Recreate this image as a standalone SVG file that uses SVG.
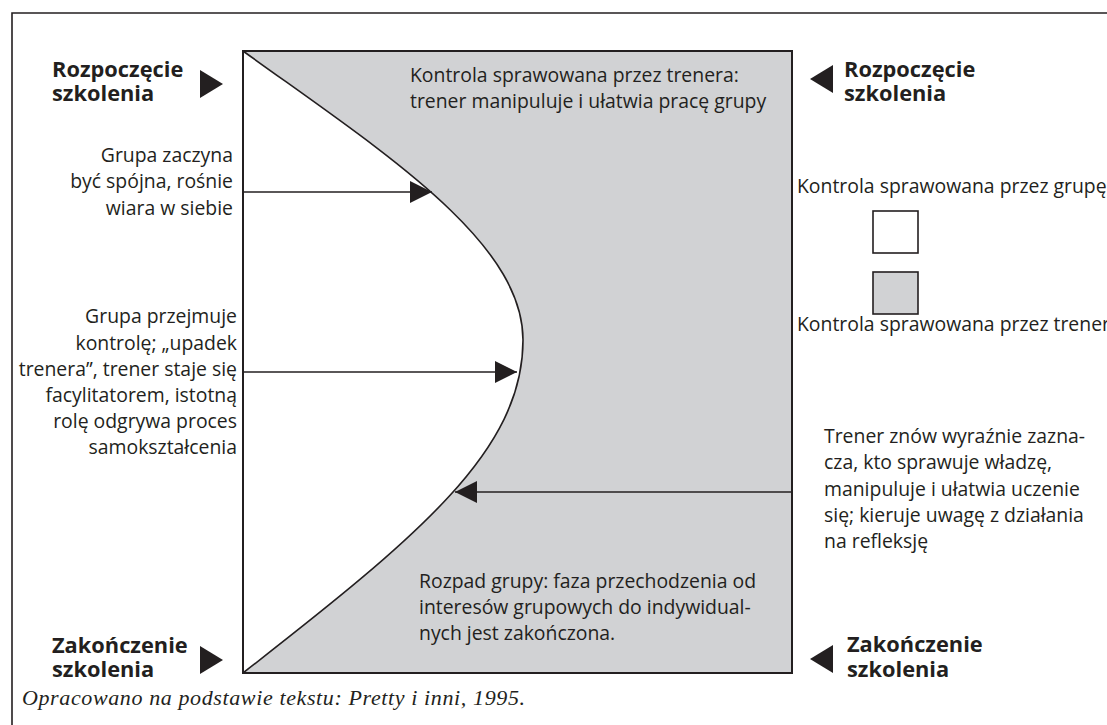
<svg xmlns="http://www.w3.org/2000/svg" width="1107" height="725" viewBox="0 0 1107 725">
<defs>
<style>
.t{font-family:"Open Sans","Noto Sans",sans-serif;font-size:19.4px;fill:#231f20}
.b{font-family:"Open Sans","Noto Sans",sans-serif;font-size:21.8px;font-weight:bold;fill:#231f20}
.r{text-anchor:end}
.cap{font-family:"Liberation Serif",serif;font-style:italic;font-size:22px;fill:#231f20}
.ln{stroke:#231f20;stroke-width:1.6;fill:none}
.tri{fill:#231f20}
</style>
<marker id="ah" markerUnits="userSpaceOnUse" markerWidth="22" markerHeight="22" viewBox="0 0 22 22" refX="22" refY="11" orient="auto">
<path d="M0,0 L22,11 L0,22 Z" fill="#231f20"/>
</marker>
</defs>
<rect width="1107" height="725" fill="#ffffff"/>
<g id="frame">
<path d="M12,725 L12,13 L1107,13" class="ln" stroke="#333"/>
</g>
<g id="main">
<rect x="243" y="51" width="549" height="622" fill="#d1d2d4"/>
<path d="M243,51 C380,150 523,240 523,340 C523,450 420,535 243,673 Z" fill="#ffffff"/>
<path d="M243,51 C380,150 523,240 523,340 C523,450 420,535 243,673" class="ln"/>
<rect x="243" y="51" width="549" height="622" fill="none" stroke="#231f20" stroke-width="2"/>
</g>
<g id="connectors">
<line x1="243" y1="192" x2="432" y2="192" class="ln" marker-end="url(#ah)"/>
<line x1="243" y1="372" x2="517" y2="372" class="ln" marker-end="url(#ah)"/>
<line x1="791" y1="492" x2="455" y2="492" class="ln" marker-end="url(#ah)"/>
</g>
<g id="start-left">
<text class="b" x="52" y="77">Rozpoczęcie</text>
<text class="b" x="52" y="101">szkolenia</text>
<path class="tri" d="M200,70 L223,84 L200,98 Z"/>
</g>
<g id="start-right">
<path class="tri" d="M833,65 L810,79 L833,93 Z"/>
<text class="b" x="844" y="77">Rozpoczęcie</text>
<text class="b" x="844" y="101">szkolenia</text>
</g>
<g id="end-left">
<text class="b" x="52" y="653">Zakończenie</text>
<text class="b" x="52" y="677">szkolenia</text>
<path class="tri" d="M200,646 L223,660 L200,674 Z"/>
</g>
<g id="end-right">
<path class="tri" d="M833,645 L810,659 L833,673 Z"/>
<text class="b" x="847" y="652">Zakończenie</text>
<text class="b" x="847" y="677">szkolenia</text>
</g>
<g id="note-cohesion">
<text class="t r" x="233" y="162">Grupa zaczyna</text>
<text class="t r" x="233" y="188">być spójna, rośnie</text>
<text class="t r" x="233" y="215">wiara w siebie</text>
</g>
<g id="note-takeover">
<text class="t r" x="237" y="323">Grupa przejmuje</text>
<text class="t r" x="237" y="350">kontrolę; „upadek</text>
<text class="t r" x="237" y="376">trenera”, trener staje się</text>
<text class="t r" x="237" y="402">facylitatorem, istotną</text>
<text class="t r" x="237" y="428">rolę odgrywa proces</text>
<text class="t r" x="237" y="454">samokształcenia</text>
</g>
<g id="note-trainer-control">
<text class="t" x="410" y="82">Kontrola sprawowana przez trenera:</text>
<text class="t" x="410" y="108">trener manipuluje i ułatwia pracę grupy</text>
</g>
<g id="legend">
<text class="t" x="797" y="193">Kontrola sprawowana przez grupę</text>
<rect x="873" y="211" width="45" height="42" fill="#ffffff" stroke="#231f20" stroke-width="1.6"/>
<rect x="873" y="272" width="45" height="42" fill="#d1d2d4" stroke="#231f20" stroke-width="1.6"/>
<text class="t" x="797" y="331">Kontrola sprawowana przez trenera</text>
</g>
<g id="note-trainer-again">
<text class="t" x="824" y="443">Trener znów wyraźnie zazna-</text>
<text class="t" x="824" y="469">cza, kto sprawuje władzę,</text>
<text class="t" x="824" y="496">manipuluje i ułatwia uczenie</text>
<text class="t" x="824" y="522">się; kieruje uwagę z działania</text>
<text class="t" x="824" y="548">na refleksję</text>
</g>
<g id="note-breakup">
<text class="t" x="419" y="588">Rozpad grupy: faza przechodzenia od</text>
<text class="t" x="419" y="614">interesów grupowych do indywidual-</text>
<text class="t" x="419" y="640">nych jest zakończona.</text>
</g>
<text class="cap" x="22" y="705" textLength="503" lengthAdjust="spacing">Opracowano na podstawie tekstu: Pretty i inni, 1995.</text>
</svg>
